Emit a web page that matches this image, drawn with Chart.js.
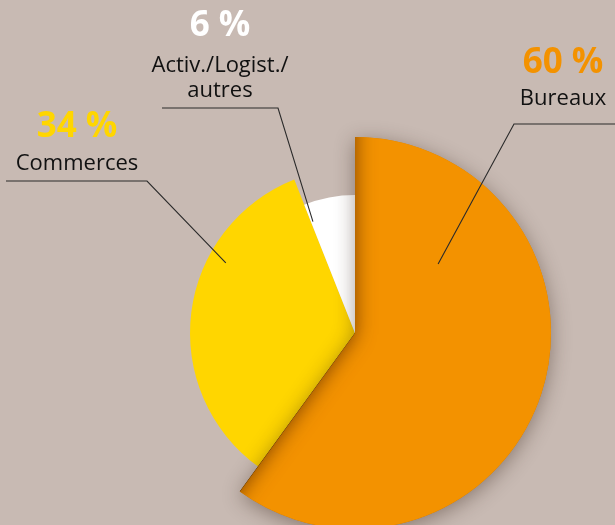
<!DOCTYPE html>
<html>
<head>
<meta charset="utf-8">
<script src="https://cdn.jsdelivr.net/npm/chart.js@4/dist/chart.umd.min.js"></script>
<style>
  html, body { margin: 0; padding: 0; background: #c8bab3; }
  #wrap { width: 615px; height: 525px; }
</style>
</head>
<body>
<div id="wrap"><canvas id="chart" width="615" height="525"></canvas></div>
<script>
// Répartition par type d'actif
const categories = ['Commerces', 'Activ./Logist./autres', 'Bureaux'];
const values = [34, 6, 60];
const pctLabels = ['34 %', '6 %', '60 %'];
const nameLines = [['Commerces'], ['Activ./Logist./', 'autres'], ['Bureaux']];
const colors = ['#ffd600', '#ffffff', '#f39200'];

// rayon de chaque part, relatif à la plus grande
const radiusScale = [165 / 196, 138 / 196, 1];

// placement des étiquettes (ancre dans la part : angle en degrés, distance / rayon)
const labelLayout = [
  { ang: -151.5, dist: 147 / 196, elbow: [147, 181], endX: 6,   cx: 77,  pctY: 137, lineY: [170] },
  { ang: -110.7, dist: 119 / 196, elbow: [278, 108], endX: 162, cx: 220, pctY: 36,  lineY: [72, 97] },
  { ang: -39.7,  dist: 108 / 196, elbow: [514, 124], endX: 615, cx: 563, pctY: 73,  lineY: [105] }
];

const sizePlugin = {
  id: 'sizePlugin',
  afterDatasetUpdate(chart, args) {
    args.meta.data.forEach((el, i) => { el.outerRadius = el.outerRadius * radiusScale[i]; });
  }
};

const shadowPlugin = {
  id: 'shadowPlugin',
  afterDatasetsDraw(chart) {
    const ctx = chart.ctx;
    const arc = chart.getDatasetMeta(0).data[2];
    const { x, y, startAngle, endAngle, outerRadius } = arc;

    // ombre portée
    ctx.save();
    ctx.shadowColor = 'rgba(50,30,20,0.42)';
    ctx.shadowBlur = 20;
    ctx.shadowOffsetX = 0;
    ctx.shadowOffsetY = 4;
    arc.draw(ctx);
    ctx.restore();

    // ombre intérieure le long des bords droits
    ctx.save();
    ctx.beginPath();
    ctx.moveTo(x, y);
    ctx.arc(x, y, outerRadius, startAngle, endAngle);
    ctx.closePath();
    ctx.clip();
    ctx.beginPath();
    ctx.moveTo(x, y);
    ctx.arc(x, y, outerRadius * 3, endAngle, startAngle + 2 * Math.PI);
    ctx.closePath();
    ctx.shadowColor = 'rgba(105,50,0,0.85)';
    ctx.shadowBlur = 20;
    ctx.fillStyle = '#000';
    ctx.fill();
    ctx.restore();
  }
};

const labelPlugin = {
  id: 'labelPlugin',
  afterDraw(chart) {
    const ctx = chart.ctx;
    const meta = chart.getDatasetMeta(0);
    meta.data.forEach((arc, i) => {
      const L = labelLayout[i];
      const a = L.ang * Math.PI / 180;
      const r = meta.data[2].outerRadius * L.dist;
      const ax = arc.x + Math.cos(a) * r;
      const ay = arc.y + Math.sin(a) * r;

      ctx.save();
      ctx.strokeStyle = '#2a2a2a';
      ctx.lineWidth = 1.1;
      ctx.beginPath();
      ctx.moveTo(ax, ay);
      ctx.lineTo(L.elbow[0], L.elbow[1]);
      ctx.lineTo(L.endX, L.elbow[1]);
      ctx.stroke();

      ctx.textAlign = 'center';
      ctx.textBaseline = 'alphabetic';
      ctx.fillStyle = colors[i];
      ctx.font = 'bold 35px "Open Sans", sans-serif';
      ctx.fillText(pctLabels[i], L.cx, L.pctY);

      ctx.fillStyle = '#111';
      ctx.font = '22px "Open Sans", sans-serif';
      nameLines[i].forEach((t, k) => ctx.fillText(t, L.cx, L.lineY[k]));
      ctx.restore();
    });
  }
};

new Chart(document.getElementById('chart'), {
  type: 'pie',
  data: {
    labels: categories,
    datasets: [{
      data: values,
      backgroundColor: colors,
      borderWidth: 0,
      radius: 196
    }]
  },
  options: {
    responsive: false,
    animation: false,
    events: [],
    rotation: 216,
    layout: { padding: { left: 159, right: 64, top: 141, bottom: 0 } },
    plugins: { legend: { display: false }, tooltip: { enabled: false } }
  },
  plugins: [sizePlugin, shadowPlugin, labelPlugin]
});
</script>
</body>
</html>
